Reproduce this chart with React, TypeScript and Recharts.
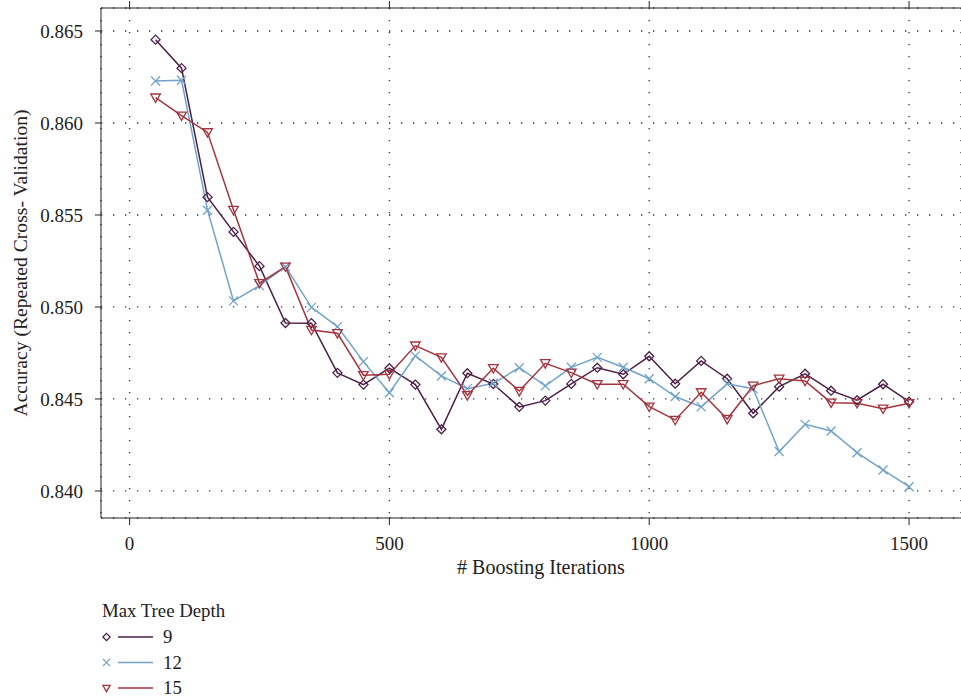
import React from "react";
import {
  LineChart,
  Line,
  XAxis,
  YAxis,
  CartesianGrid,
} from "recharts";

// Boosting iterations evaluated during tuning
const iterations = [
  50, 100, 150, 200, 250, 300, 350, 400, 450, 500, 550, 600, 650, 700, 750,
  800, 850, 900, 950, 1000, 1050, 1100, 1150, 1200, 1250, 1300, 1350, 1400,
  1450, 1500,
];

// Resampled accuracy per max tree depth
const depth9 = [
  0.86453, 0.86298, 0.85597, 0.85408, 0.85222, 0.84913, 0.84912, 0.84642,
  0.84578, 0.84667, 0.84578, 0.84335, 0.8464, 0.84581, 0.84457, 0.84491,
  0.84582, 0.8467, 0.84634, 0.84732, 0.84583, 0.84707, 0.8461, 0.84422,
  0.84567, 0.84637, 0.84545, 0.84493, 0.8458, 0.84485,
];
const depth12 = [
  0.86228, 0.86232, 0.85526, 0.85033, 0.85116, 0.85219, 0.84998, 0.84893,
  0.84703, 0.84534, 0.84734, 0.84625, 0.84556, 0.84585, 0.8467, 0.84571,
  0.84672, 0.84726, 0.84672, 0.8461, 0.84513, 0.84457, 0.84582, 0.84556,
  0.84214, 0.84362, 0.84326, 0.84208, 0.84114, 0.84023,
];
const depth15 = [
  0.86138, 0.8604, 0.85949, 0.85527, 0.85129, 0.85219, 0.84875, 0.84857,
  0.84629, 0.84634, 0.8479, 0.84726, 0.8452, 0.84667, 0.84543, 0.84694,
  0.84643, 0.8458, 0.8458, 0.84458, 0.84386, 0.84536, 0.84391, 0.84572,
  0.8461, 0.84598, 0.8448, 0.84477, 0.84447, 0.84477,
];

const xTicks = [0, 500, 1000, 1500];
const yTicks = [0.84, 0.845, 0.85, 0.855, 0.86, 0.865];

const seriesNames = ["9", "12", "15"];
const colors = ["#4b1f47", "#72a3c8", "#a3353f"];

const data = iterations.map((it, i) => ({
  iter: it,
  d9: depth9[i],
  d12: depth12[i],
  d15: depth15[i],
}));

const FONT = "'Liberation Serif', 'DejaVu Serif', serif";
const INK = "#222";

type DotProps = { cx?: number; cy?: number };

const Diamond = (color: string, r = 4.5) => (p: DotProps) => {
  const { cx = 0, cy = 0 } = p;
  if (p.cx == null || p.cy == null) return <g />;
  return (
    <polygon
      points={`${cx},${cy - r} ${cx + r},${cy} ${cx},${cy + r} ${cx - r},${cy}`}
      fill="none"
      stroke={color}
      strokeWidth={1.3}
    />
  );
};

const Cross = (color: string, r = 4.5) => (p: DotProps) => {
  const { cx = 0, cy = 0 } = p;
  if (p.cx == null || p.cy == null) return <g />;
  return (
    <g stroke={color} strokeWidth={1.3}>
      <line x1={cx - r} y1={cy - r} x2={cx + r} y2={cy + r} />
      <line x1={cx - r} y1={cy + r} x2={cx + r} y2={cy - r} />
    </g>
  );
};

const TriDown = (color: string, r = 4.8) => (p: DotProps) => {
  const { cx = 0, cy = 0 } = p;
  if (p.cx == null || p.cy == null) return <g />;
  return (
    <polygon
      points={`${cx - r},${cy - r * 0.75} ${cx + r},${cy - r * 0.75} ${cx},${cy + r}`}
      fill="none"
      stroke={color}
      strokeWidth={1.3}
    />
  );
};

const markers = [Diamond, Cross, TriDown];
const keys = ["d9", "d12", "d15"];

const YTitle = () => (
  <text
    x={20}
    y={263}
    transform="rotate(-90 20 263)"
    textAnchor="middle"
    dominantBaseline="central"
    fontFamily={FONT}
    fontSize={19.6}
    fill={INK}
  >
    Accuracy (Repeated Cross- Validation)
  </text>
);

const XTitle = () => (
  <text
    x={541}
    y={574}
    textAnchor="middle"
    fontFamily={FONT}
    fontSize={20}
    fill={INK}
  >
    # Boosting Iterations
  </text>
);

const LegendBlock = () => (
  <svg
    width={260}
    height={110}
    style={{ position: "absolute", left: 0, top: 590 }}
    fontFamily={FONT}
  >
    <text x={102} y={27} fontSize={18.8} fill={INK}>
      Max Tree Depth
    </text>
    {seriesNames.map((name, i) => {
      const cy = 47 + i * 25.5;
      const Marker = markers[i](colors[i], 3.6);
      return (
        <g key={name}>
          {Marker({ cx: 106.5, cy })}
          <line
            x1={118}
            x2={153}
            y1={cy}
            y2={cy}
            stroke={colors[i]}
            strokeWidth={1.5}
          />
          <text x={163} y={cy + 6} fontSize={18.8} fill={INK}>
            {name}
          </text>
        </g>
      );
    })}
  </svg>
);

export default function App() {
  return (
    <div
      style={{
        position: "absolute",
        left: 0,
        top: 0,
        width: 961,
        height: 697,
        background: "#fff",
        overflow: "hidden",
      }}
    >
      <LineChart
        width={961}
        height={697}
        data={data}
        margin={{ top: 0, right: 0, bottom: 119, left: 0 }}
      >
        <CartesianGrid
          stroke="#333"
          strokeWidth={1.3}
          strokeDasharray="1.3 10.7"
        />
        <XAxis
          dataKey="iter"
          type="number"
          domain={[-55, 1600]}
          ticks={xTicks}
          allowDataOverflow
          height={60}
          tickSize={7}
          tickMargin={12}
          stroke={INK}
          tick={{ fontFamily: FONT, fontSize: 19, fill: INK }}
          label={{ content: () => <XTitle /> }}
        />
        <XAxis
          xAxisId="top"
          orientation="top"
          dataKey="iter"
          type="number"
          domain={[-55, 1600]}
          ticks={xTicks}
          allowDataOverflow
          height={8}
          tickSize={7}
          stroke={INK}
          tick={() => <g />}
        />
        <YAxis
          type="number"
          domain={[0.83853, 0.86625]}
          ticks={yTicks}
          allowDataOverflow
          width={101}
          tickSize={6}
          tickMargin={12}
          stroke={INK}
          tickFormatter={(v: number) => v.toFixed(3)}
          tick={{ fontFamily: FONT, fontSize: 19, fill: INK }}
          label={{ content: () => <YTitle /> }}
        />
        {keys.map((k, i) => (
          <Line
            key={k}
            dataKey={k}
            type="linear"
            stroke={colors[i]}
            strokeWidth={1.5}
            dot={markers[i](colors[i])}
            activeDot={false}
            isAnimationActive={false}
          />
        ))}
      </LineChart>
      <LegendBlock />
    </div>
  );
}
